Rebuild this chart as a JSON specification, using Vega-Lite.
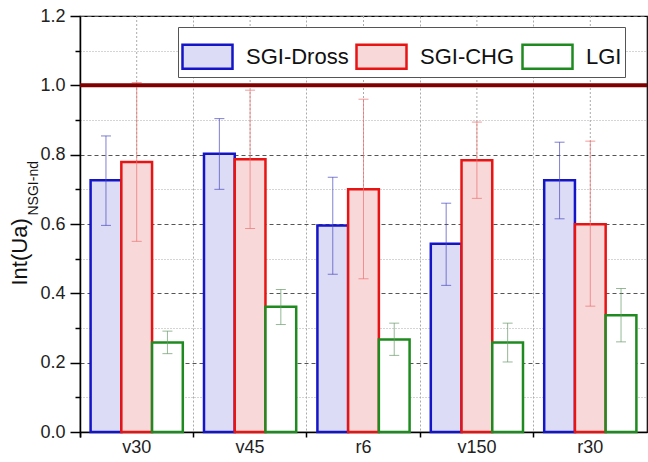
{
  "$schema": "https://vega.github.io/schema/vega-lite/v6.json",
  "width": 567,
  "height": 416,
  "autosize": {"type": "none"},
  "padding": {"left": 80, "top": 16, "right": 1, "bottom": 30},
  "background": "white",
  "config": {
    "font": "Liberation Sans",
    "view": {"stroke": "#000", "strokeWidth": 1.2},
    "axis": {"labelFont": "Liberation Sans", "titleFont": "Liberation Sans"},
    "legend": {
      "orient": "none", "legendX": 98, "legendY": 11, "direction": "horizontal",
      "symbolType": "M-1,-0.48H1V0.48H-1Z", "symbolSize": 2500, "symbolStrokeWidth": 2.5,
      "labelFont": "Liberation Sans", "labelFontSize": 22, "labelColor": "#111", "labelOffset": 12,
      "columnPadding": 2, "padding": 3, "strokeColor": "#555555", "fillColor": "#ffffff",
      "titleFontSize": 0
    }
  },
  "datasets": {
    "bars": [
      {"cat": "v30", "series": "SGI-Dross", "value": 0.726, "lo": 0.596, "hi": 0.854},
      {"cat": "v30", "series": "SGI-CHG", "value": 0.779, "lo": 0.55, "hi": 1.008},
      {"cat": "v30", "series": "LGI", "value": 0.258, "lo": 0.226, "hi": 0.291},
      {"cat": "v45", "series": "SGI-Dross", "value": 0.803, "lo": 0.70, "hi": 0.904},
      {"cat": "v45", "series": "SGI-CHG", "value": 0.787, "lo": 0.587, "hi": 0.986},
      {"cat": "v45", "series": "LGI", "value": 0.361, "lo": 0.31, "hi": 0.411},
      {"cat": "r6", "series": "SGI-Dross", "value": 0.596, "lo": 0.455, "hi": 0.735},
      {"cat": "r6", "series": "SGI-CHG", "value": 0.70, "lo": 0.442, "hi": 0.96},
      {"cat": "r6", "series": "LGI", "value": 0.267, "lo": 0.221, "hi": 0.314},
      {"cat": "v150", "series": "SGI-Dross", "value": 0.543, "lo": 0.423, "hi": 0.66},
      {"cat": "v150", "series": "SGI-CHG", "value": 0.784, "lo": 0.674, "hi": 0.894},
      {"cat": "v150", "series": "LGI", "value": 0.258, "lo": 0.202, "hi": 0.314},
      {"cat": "r30", "series": "SGI-Dross", "value": 0.726, "lo": 0.615, "hi": 0.836},
      {"cat": "r30", "series": "SGI-CHG", "value": 0.599, "lo": 0.363, "hi": 0.839},
      {"cat": "r30", "series": "LGI", "value": 0.337, "lo": 0.26, "hi": 0.414}
    ],
    "cats": [{"cat": "v30"}, {"cat": "v45"}, {"cat": "r6"}, {"cat": "v150"}, {"cat": "r30"}],
    "ref": [{"ref": 1.0}]
  },
  "resolve": {"scale": {"y": "shared"}, "axis": {"y": "independent"}},
  "layer": [
    {
      "data": {"name": "cats"},
      "mark": {"type": "rule", "color": "#aaaaaa", "strokeWidth": 1, "strokeDash": [2, 2]},
      "encoding": {
        "x": {"field": "cat", "type": "nominal", "sort": ["v30", "v45", "r6", "v150", "r30"], "title": null,
              "scale": {"paddingInner": 0, "paddingOuter": 0}}
      }
    },
    {
      "data": {"name": "bars"},
      "mark": {"type": "bar", "strokeWidth": 2.5},
      "encoding": {
        "x": {"field": "cat", "type": "nominal", "sort": ["v30", "v45", "r6", "v150", "r30"], "title": null,
              "scale": {"paddingInner": 0, "paddingOuter": 0},
              "axis": {"labelAngle": 0, "labelFontSize": 18, "labelColor": "#222", "labelPadding": 10,
                       "bandPosition": 0, "tickExtra": true, "labelAlign": "center",
                       "tickSize": 5, "tickColor": "#000", "tickWidth": 1.5,
                       "domainColor": "#000", "domainWidth": 1.5,
                       "grid": true, "gridColor": "#aaaaaa", "gridDash": [2, 2], "gridWidth": 1}},
        "xOffset": {"field": "series", "type": "nominal", "sort": ["SGI-Dross", "SGI-CHG", "LGI"],
                    "scale": {"paddingInner": 0, "paddingOuter": 0.345}},
        "y": {"field": "value", "type": "quantitative", "scale": {"domain": [0, 1.2], "nice": false},
              "axis": {"values": [0, 0.1, 0.2, 0.3, 0.4, 0.5, 0.6, 0.7, 0.8, 0.9, 1.0, 1.1, 1.2],
                       "labelExpr": "round(datum.value*10) % 2 == 0 ? format(datum.value, '.1f') : ''",
                       "labelFontSize": 18, "labelColor": "#222", "labelPadding": 5,
                       "tickColor": "#000", "tickWidth": 1.5,
                       "tickSize": {"condition": {"test": "round(datum.value*10) % 2 == 0", "value": 10}, "value": 5},
                       "domainColor": "#000", "domainWidth": 1.5,
                       "grid": true,
                       "gridColor": {"condition": {"test": "round(datum.value*10) % 2 == 0", "value": "#555555"}, "value": "#aaaaaa"},
                       "gridDash": {"condition": {"test": "round(datum.value*10) % 2 == 0", "value": [4, 3]}, "value": [1, 2]},
                       "gridWidth": 1,
                       "title": "Int(Ua)", "titleFontSize": 22, "titleFontWeight": "normal", "titleColor": "#111",
                       "titleAngle": -90, "titleAlign": "left", "titleBaseline": "alphabetic",
                       "titleX": -54, "titleY": 269}},
        "fill": {"field": "series", "type": "nominal", "sort": ["SGI-Dross", "SGI-CHG", "LGI"],
                 "scale": {"domain": ["SGI-Dross", "SGI-CHG", "LGI"], "range": ["#dcdcf6", "#f8d8d8", "#ffffff"]},
                 "legend": {"title": null, "orient": "none", "legendX": 98, "legendY": 11, "direction": "horizontal"}},
        "stroke": {"field": "series", "type": "nominal", "sort": ["SGI-Dross", "SGI-CHG", "LGI"],
                   "scale": {"domain": ["SGI-Dross", "SGI-CHG", "LGI"], "range": ["#1414c8", "#e81414", "#1f8a1f"]},
                   "legend": {"title": null, "orient": "none", "legendX": 98, "legendY": 11, "direction": "horizontal"}}
      }
    },
    {
      "data": {"name": "bars"},
      "mark": {"type": "rule", "strokeWidth": 1},
      "encoding": {
        "x": {"field": "cat", "type": "nominal", "sort": ["v30", "v45", "r6", "v150", "r30"], "title": null},
        "xOffset": {"field": "series", "type": "nominal", "sort": ["SGI-Dross", "SGI-CHG", "LGI"]},
        "y": {"field": "lo", "type": "quantitative", "scale": {"domain": [0, 1.2], "nice": false}, "axis": null},
        "y2": {"field": "hi"},
        "color": {"field": "series", "type": "nominal",
                  "scale": {"domain": ["SGI-Dross", "SGI-CHG", "LGI"], "range": ["#4a4ac0", "#ee7070", "#6a9a6a"]},
                  "legend": null},
        "opacity": {"value": 0.7}
      }
    },
    {
      "data": {"name": "bars"},
      "mark": {"type": "tick", "thickness": 1, "size": 10},
      "encoding": {
        "x": {"field": "cat", "type": "nominal", "sort": ["v30", "v45", "r6", "v150", "r30"], "title": null},
        "xOffset": {"field": "series", "type": "nominal", "sort": ["SGI-Dross", "SGI-CHG", "LGI"]},
        "y": {"field": "hi", "type": "quantitative", "scale": {"domain": [0, 1.2], "nice": false}, "axis": null},
        "color": {"field": "series", "type": "nominal",
                  "scale": {"domain": ["SGI-Dross", "SGI-CHG", "LGI"], "range": ["#4a4ac0", "#ee7070", "#6a9a6a"]},
                  "legend": null},
        "opacity": {"value": 0.7}
      }
    },
    {
      "data": {"name": "bars"},
      "mark": {"type": "tick", "thickness": 1, "size": 10},
      "encoding": {
        "x": {"field": "cat", "type": "nominal", "sort": ["v30", "v45", "r6", "v150", "r30"], "title": null},
        "xOffset": {"field": "series", "type": "nominal", "sort": ["SGI-Dross", "SGI-CHG", "LGI"]},
        "y": {"field": "lo", "type": "quantitative", "scale": {"domain": [0, 1.2], "nice": false}, "axis": null},
        "color": {"field": "series", "type": "nominal",
                  "scale": {"domain": ["SGI-Dross", "SGI-CHG", "LGI"], "range": ["#4a4ac0", "#ee7070", "#6a9a6a"]},
                  "legend": null},
        "opacity": {"value": 0.7}
      }
    },
    {
      "data": {"name": "ref"},
      "mark": {"type": "rule", "color": "#800000", "strokeWidth": 4},
      "encoding": {
        "y": {"field": "ref", "type": "quantitative", "scale": {"domain": [0, 1.2], "nice": false},
              "axis": {"orient": "right", "labels": false, "ticks": false, "domain": false, "grid": false,
                       "title": "NSGI-nd", "titleFontSize": 14, "titleFontWeight": "normal", "titleColor": "#111",
                       "titleAngle": -90, "titleAlign": "left", "titleBaseline": "alphabetic",
                       "titleX": -610, "titleY": 199}}
      }
    }
  ]
}
